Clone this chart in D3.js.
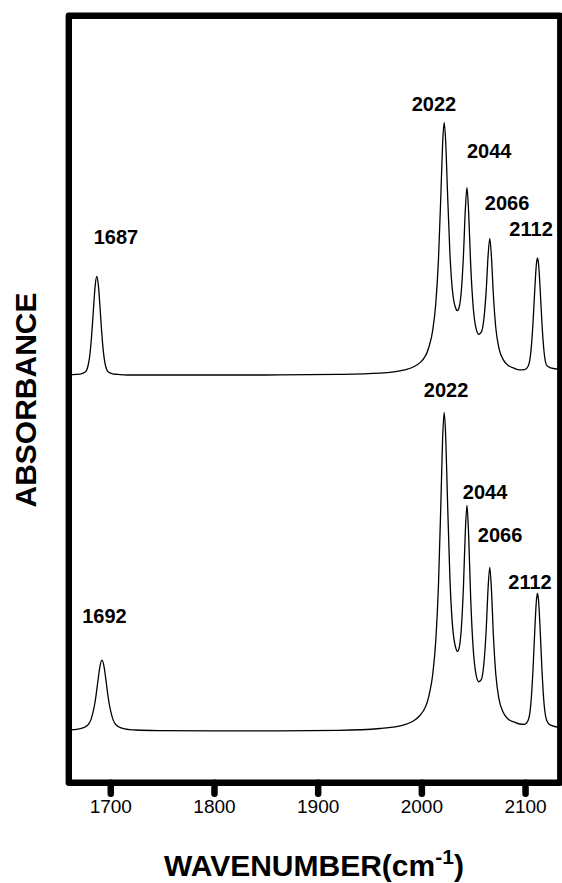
<!DOCTYPE html>
<html>
<head>
<meta charset="utf-8">
<script src="https://cdn.jsdelivr.net/npm/d3@7"></script>
<style>
  html, body { margin: 0; padding: 0; background: #fff; }
  svg { display: block; }
</style>
</head>
<body>
<svg id="chart" width="562" height="883"></svg>
<script>
// Upper spectrum (1687 band + carbonyl region)
const upperWavenumber = [
  1660, 1667, 1672, 1675, 1677, 1678.5, 1680, 1681.5, 1682.7, 1684, 1685.5, 1687,
  1688.5, 1690, 1691.3, 1692.5, 1694, 1695.5, 1697, 1699, 1702, 1707, 1717, 1760,
  1850, 1920, 1960, 1984, 1999, 2007, 2011, 2014, 2016.5, 2019, 2020.5, 2022,
  2023.5, 2025, 2027.5, 2030, 2033.6, 2034.8, 2036.1, 2038.6, 2040.6, 2042.4, 2044,
  2045.6, 2047.6, 2050.1, 2052.6, 2055.3, 2057.8, 2060.3, 2062.6, 2064.4, 2066,
  2067.6, 2069.4, 2071.8, 2074.8, 2078.8, 2083.8, 2089.8, 2094.6, 2099.6, 2103.1,
  2105.6, 2107.6, 2109.6, 2111, 2112, 2113, 2114.4, 2116.4, 2118.4, 2120.9, 2124.6, 2134
];
const upperAbsorbance = [
  0.002, 0.003, 0.005, 0.009, 0.016, 0.031, 0.060, 0.110, 0.165, 0.233, 0.301, 0.330,
  0.301, 0.233, 0.165, 0.110, 0.060, 0.031, 0.016, 0.009, 0.005, 0.003, 0.001, 0.001,
  0.001, 0.003, 0.007, 0.018, 0.043, 0.091, 0.151, 0.243, 0.386, 0.621, 0.773, 0.843,
  0.778, 0.633, 0.410, 0.282, 0.220, 0.216, 0.223, 0.284, 0.400, 0.552, 0.626,
  0.544, 0.366, 0.224, 0.159, 0.137, 0.144, 0.188, 0.286, 0.401, 0.457,
  0.395, 0.272, 0.158, 0.091, 0.053, 0.033, 0.023, 0.018, 0.019, 0.031,
  0.078, 0.170, 0.300, 0.373, 0.392, 0.373, 0.299, 0.168, 0.076, 0.033, 0.025, 0.020
];

// Lower spectrum (1692 band + carbonyl region)
const lowerWavenumber = [
  1660, 1670.1, 1675.6, 1678.9, 1681.1, 1683.2, 1684.9, 1686.2, 1687.6, 1688.7, 1689.8, 1692,
  1694.2, 1695.3, 1696.4, 1697.8, 1699.1, 1700.8, 1702.9, 1705.1, 1708.4, 1713.9, 1724.8, 1747,
  1800, 1850, 1920, 1960, 1984, 1999, 2007, 2011, 2014, 2016.5, 2019, 2020.5, 2022,
  2023.5, 2025, 2027.5, 2030, 2033.6, 2034.8, 2036.1, 2038.6, 2040.6, 2042.4, 2044,
  2045.6, 2047.6, 2050.1, 2052.6, 2055.3, 2057.8, 2060.3, 2062.6, 2064.4, 2066,
  2067.6, 2069.4, 2071.8, 2074.8, 2078.8, 2083.8, 2089.8, 2094.6, 2099.6, 2103.1,
  2105.6, 2107.6, 2109.6, 2111, 2112, 2113, 2114.4, 2116.4, 2118.4, 2120.9, 2124.6, 2134
];
const lowerAbsorbance = [
  0.004, 0.008, 0.014, 0.023, 0.036, 0.061, 0.089, 0.118, 0.155, 0.184, 0.211, 0.237,
  0.211, 0.184, 0.155, 0.118, 0.089, 0.061, 0.036, 0.023, 0.014, 0.008, 0.004, 0.002,
  0.001, 0.001, 0.003, 0.009, 0.022, 0.054, 0.114, 0.190, 0.307, 0.487, 0.784, 0.975, 1.064,
  0.982, 0.798, 0.515, 0.354, 0.273, 0.266, 0.273, 0.345, 0.483, 0.665, 0.754,
  0.655, 0.441, 0.270, 0.192, 0.165, 0.172, 0.225, 0.343, 0.480, 0.547,
  0.472, 0.325, 0.190, 0.109, 0.064, 0.040, 0.030, 0.024, 0.023, 0.037,
  0.091, 0.200, 0.352, 0.438, 0.460, 0.438, 0.352, 0.198, 0.089, 0.036, 0.020, 0.012
];

// Vertical stacking offsets of the two spectra
const traceOffsets = [1.36, 0.172];

// Axis ticks
const tickValues = [1700, 1800, 1900, 2000, 2100];

// Band labels, anchored in data units
const peakLabels = ["1687", "2022", "2044", "2066", "2112", "1692", "2022", "2044", "2066", "2112"];
const labelWavenumber = [1705.5, 2012.2, 2065.4, 2082.7, 2105.8, 1694.4, 2023.8, 2061.4, 2075.9, 2104.8];
const labelAbsorbance = [1.798, 2.242, 2.085, 1.911, 1.826, 0.533, 1.288, 0.947, 0.804, 0.647];

const svg = d3.select("#chart");
const plot = { left: 68.8, right: 560.3, top: 15.8, bottom: 782.7 };

const x = d3.scaleLinear().domain([1660, 2134]).range([plot.left, plot.right]);
const y = d3.scaleLinear().domain([0, 2.56]).range([plot.bottom, plot.top]);

svg.append("defs").append("clipPath").attr("id", "plot-clip")
  .append("rect")
  .attr("x", plot.left).attr("y", plot.top)
  .attr("width", plot.right - plot.left).attr("height", plot.bottom - plot.top);

const traces = [
  { w: upperWavenumber, a: upperAbsorbance, offset: traceOffsets[0] },
  { w: lowerWavenumber, a: lowerAbsorbance, offset: traceOffsets[1] }
];

const line = d3.line()
  .x(d => x(d[0]))
  .y(d => y(d[1]))
  .curve(d3.curveMonotoneX);

svg.append("g").attr("clip-path", "url(#plot-clip)")
  .selectAll("path")
  .data(traces)
  .join("path")
  .attr("d", t => line(t.w.map((w, i) => [w, t.a[i] + t.offset])))
  .attr("fill", "none")
  .attr("stroke", "#000")
  .attr("stroke-width", 1.3)
  .attr("stroke-linejoin", "round");

// Band labels
svg.append("g")
  .selectAll("text")
  .data(peakLabels)
  .join("text")
  .attr("x", (d, i) => x(labelWavenumber[i]))
  .attr("y", (d, i) => y(labelAbsorbance[i]))
  .attr("text-anchor", "middle")
  .attr("font-family", "'Liberation Sans', Arial, sans-serif")
  .attr("font-weight", "bold")
  .attr("font-size", 20)
  .attr("fill", "#000")
  .text(d => d);

// Bottom axis with heavy rounded ticks
const axis = d3.axisBottom(x)
  .tickValues(tickValues)
  .tickSize(11)
  .tickFormat(d3.format("d"));

const gAxis = svg.append("g")
  .attr("transform", `translate(0,${plot.bottom})`)
  .call(axis)
  .attr("font-family", "'Liberation Sans', Arial, sans-serif")
  .attr("font-size", 19);
gAxis.select(".domain").remove();
gAxis.selectAll(".tick line")
  .attr("stroke", "#000")
  .attr("stroke-width", 6.5)
  .attr("stroke-linecap", "round");
gAxis.selectAll(".tick text")
  .attr("y", 30.3)
  .attr("dy", 0)
  .attr("fill", "#000");

// Heavy frame around the plot
svg.append("rect")
  .attr("x", plot.left).attr("y", plot.top)
  .attr("width", plot.right - plot.left)
  .attr("height", plot.bottom - plot.top)
  .attr("fill", "none")
  .attr("stroke", "#000")
  .attr("stroke-width", 6.4)
  .attr("stroke-linejoin", "round");

// Axis titles
const xTitle = svg.append("text")
  .attr("x", 314)
  .attr("y", 876)
  .attr("text-anchor", "middle")
  .attr("font-family", "'Liberation Sans', Arial, sans-serif")
  .attr("font-weight", "bold")
  .attr("font-size", 30)
  .attr("fill", "#000");
xTitle.append("tspan").text("WAVENUMBER(cm");
xTitle.append("tspan").attr("font-size", 21).attr("dy", -12).text("-1");
xTitle.append("tspan").attr("dy", 12).text(")");

svg.append("text")
  .attr("transform", "translate(36,400) rotate(-90)")
  .attr("text-anchor", "middle")
  .attr("font-family", "'Liberation Sans', Arial, sans-serif")
  .attr("font-weight", "bold")
  .attr("font-size", 30)
  .attr("fill", "#000")
  .text("ABSORBANCE");
</script>
</body>
</html>
